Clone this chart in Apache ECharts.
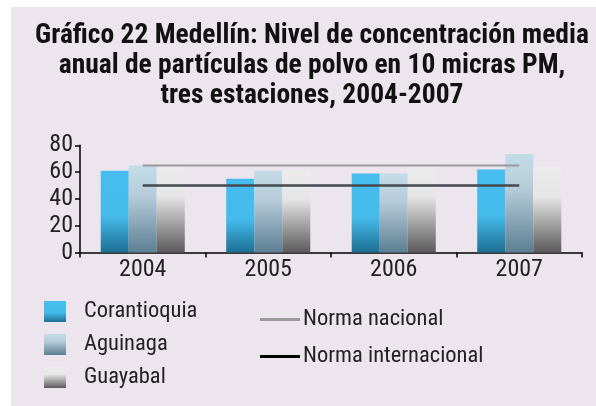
<!DOCTYPE html>
<html>
<head>
<meta charset="utf-8">
<script src="https://cdn.jsdelivr.net/npm/echarts@6/dist/echarts.min.js"></script>
<style>
html,body{margin:0;padding:0;background:#fff;}
#chart{width:596px;height:406px;}
</style>
</head>
<body>
<div id="chart"></div>
<script>
const titleText = 'Gráfico 22 Medellín: Nivel de concentración media\nanual de partículas de polvo en 10 micras PM,\ntres estaciones, 2004-2007';
const years = ['2004', '2005', '2006', '2007'];
const corantioquia = [61, 55, 59, 62];
const aguinaga = [65, 61, 59, 73.5];
const guayabal = [65, 61.5, 64.5, 64];
const normaNacional = [65, 65, 65, 65];
const normaInternacional = [50, 50, 50, 50];
const yTicks = { min: 0, max: 80, interval: 20 };

const FONT = '"Roboto Condensed", "Open Sans Condensed", sans-serif';
function grad(stops) {
  return new echarts.graphic.LinearGradient(0, 0, 0, 1, stops.map(s => ({offset: s[0], color: s[1]})));
}
const cCor = grad([[0, '#46bdee'], [0.55, '#45bbec'], [1, '#1d6f93']]);
const cAgu = grad([[0, '#c3dce7'], [0.35, '#b6ccda'], [1, '#5c7e93']]);
const cGua = grad([[0, '#ebebeb'], [0.35, '#e6e6e6'], [1, '#5a5a5a']]);

const chart = echarts.init(document.getElementById('chart'), null, {renderer: 'canvas'});
chart.setOption({
  backgroundColor: '#ffffff',
  animation: false,
  graphic: [{
    type: 'rect', z: -10, silent: true,
    shape: {x: 11, y: 7, width: 585, height: 399},
    style: {fill: '#ede5ee'}
  }],
  title: {
    text: titleText,
    left: 307, top: 16, textAlign: 'center',
    textStyle: {fontFamily: FONT, fontWeight: 'bold', fontSize: 27.5, lineHeight: 30, color: '#111'}
  },
  legend: [{
    orient: 'vertical', left: 39, top: 295,
    itemWidth: 22, itemHeight: 21, itemGap: 10,
    textStyle: {fontFamily: FONT, fontSize: 22.5, color: '#222', padding: [0, 0, 0, 13]},
    data: [
      {name: 'Corantioquia', icon: 'rect'},
      {name: 'Aguinaga', icon: 'rect'},
      {name: 'Guayabal', icon: 'rect'}
    ]
  }, {
    orient: 'vertical', left: 255, top: 303,
    itemWidth: 40, itemHeight: 3, itemGap: 14,
    textStyle: {fontFamily: FONT, fontSize: 22.5, color: '#222', padding: [0, 0, 0, -2]},
    data: [
      {name: 'Norma nacional', icon: 'rect', itemStyle: {color: '#9a9a9a'}},
      {name: 'Norma internacional', icon: 'rect', itemStyle: {color: '#000'}}
    ]
  }],
  grid: {left: 80, right: 14, top: 145.3, bottom: 153.5, containLabel: false},
  xAxis: {
    type: 'category', data: years,
    axisLine: {lineStyle: {color: '#000', width: 1.5}},
    axisTick: {show: true, length: 5, lineStyle: {color: '#000', width: 1.5}},
    axisLabel: {fontFamily: FONT, fontSize: 24, color: '#222', margin: 5}
  },
  yAxis: {
    type: 'value', min: yTicks.min, max: yTicks.max, interval: yTicks.interval,
    splitLine: {show: false},
    axisLine: {show: true, lineStyle: {color: '#000', width: 1.5}},
    axisTick: {show: true, length: 5, lineStyle: {color: '#000', width: 1.5}},
    axisLabel: {fontFamily: FONT, fontSize: 24, color: '#222', margin: 7}
  },
  series: [
    {name: 'Corantioquia', type: 'bar', data: corantioquia, barGap: '0%', barCategoryGap: '33%', itemStyle: {color: cCor}, z: 2},
    {name: 'Aguinaga', type: 'bar', data: aguinaga, barGap: '0%', barCategoryGap: '33%', itemStyle: {color: cAgu}, z: 2},
    {name: 'Guayabal', type: 'bar', data: guayabal, barGap: '0%', barCategoryGap: '33%', itemStyle: {color: cGua}, z: 2},
    {name: 'Norma nacional', type: 'line', data: normaNacional, symbol: 'none', color: '#9a9a9a',
     lineStyle: {color: '#9a9a9a', width: 2}, z: 3},
    {name: 'Norma internacional', type: 'line', data: normaInternacional, symbol: 'none', color: '#444a50',
     lineStyle: {color: '#444a50', width: 2.5}, z: 3}
  ]
});
</script>
</body>
</html>
